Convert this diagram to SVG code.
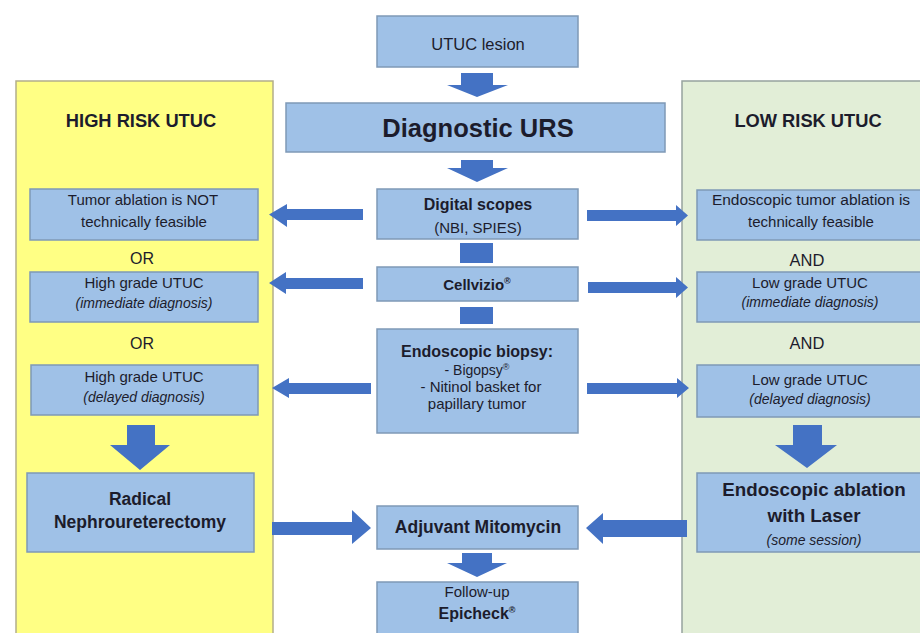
<svg xmlns="http://www.w3.org/2000/svg" width="920" height="633" viewBox="0 0 920 633">
<style>
.box{fill:#9fc1e7;stroke:#7f99b6;stroke-width:1.5}
.arr{fill:#4472c4}
text{font-family:"Liberation Sans",Arial,sans-serif;fill:#1c1c2c;text-anchor:middle}
.s{font-size:15px}
.i{font-size:14px;font-style:italic}
.b{font-weight:bold}
.h{font-size:18.3px;font-weight:bold}
.r{font-size:9px}
</style>
<rect width="920" height="633" fill="#ffffff"/>
<g id="high-risk-panel">
<rect x="16" y="81" width="257" height="560" fill="#ffff84" stroke="#b3ae8a" stroke-width="1.5"/>
<text class="h" x="141" y="127">HIGH RISK UTUC</text>
</g>
<g id="low-risk-panel">
<rect x="682" y="81" width="250" height="560" fill="#e2eed7" stroke="#97a39f" stroke-width="1.5"/>
<text class="h" x="808" y="127">LOW RISK UTUC</text>
</g>
<g id="connectors">
<polygon class="arr" points="461,73 493,73 493,85 508,85 477,97 447,85 461,85"/>
<polygon class="arr" points="461,160 493,160 493,168 508,168 477,182 447,168 461,168"/>
<rect class="arr" x="460" y="243" width="33" height="20"/>
<rect class="arr" x="460" y="307" width="33" height="17"/>
<polygon class="arr" points="462,553 492,553 492,563 507,563 477,577 447,563 462,563"/>
<polygon class="arr" points="363,209 287,209 287,204 269,214.5 287,227 287,220 363,220"/>
<polygon class="arr" points="363,278 286,278 286,272 269,283 286,294 286,289 363,289"/>
<polygon class="arr" points="371,383 289,383 289,378 272,388 289,398 289,394 371,394"/>
<polygon class="arr" points="587,210 676,210 676,205 688,215.5 676,226 676,221 587,221"/>
<polygon class="arr" points="588,282 676,282 676,277 688,287.5 676,298 676,293 588,293"/>
<polygon class="arr" points="587,383 677,383 677,378 689,388 677,398 677,394 587,394"/>
<polygon class="arr" points="127,425 155,425 155,445 170,445 140,470 110,445 127,445"/>
<polygon class="arr" points="793,425 822,425 822,445 837,445 807,468 775,445 793,445"/>
<polygon class="arr" points="272,522 352,522 352,510 371,528 352,544 352,535 272,535"/>
<polygon class="arr" points="687,520 603,520 603,513 586,528 603,544 603,537 687,537"/>
</g>
<g id="utuc-lesion">
<rect class="box" x="377" y="16" width="201" height="51"/>
<text x="478" y="50" style="font-size:16.5px">UTUC lesion</text>
</g>
<g id="diagnostic-urs">
<rect class="box" x="286" y="103" width="379" height="49"/>
<text class="b" x="478" y="137" style="font-size:25.5px">Diagnostic URS</text>
</g>
<g id="digital-scopes">
<rect class="box" x="377" y="189" width="201" height="50"/>
<text class="b" x="478" y="210" style="font-size:16px">Digital scopes</text>
<text class="s" x="478" y="233">(NBI, SPIES)</text>
</g>
<g id="cellvizio">
<rect class="box" x="377" y="267" width="201" height="34"/>
<text class="b" x="477" y="290" style="font-size:15px">Cellvizio<tspan class="r" dy="-6">®</tspan></text>
</g>
<g id="endoscopic-biopsy">
<rect class="box" x="377" y="329" width="201" height="104"/>
<text class="b" x="477" y="357" style="font-size:16px">Endoscopic biopsy:</text>
<text class="s" x="477" y="375" style="font-size:14px">- Bigopsy<tspan class="r" dy="-5">®</tspan></text>
<text class="s" x="481" y="392">- Nitinol basket for</text>
<text class="s" x="477" y="409">papillary tumor</text>
</g>
<g id="adjuvant-mitomycin">
<rect class="box" x="377" y="506" width="201" height="43"/>
<text class="b" x="478" y="533" style="font-size:17.5px">Adjuvant Mitomycin</text>
</g>
<g id="follow-up">
<rect class="box" x="377" y="582" width="201" height="60"/>
<text class="s" x="477" y="597">Follow-up</text>
<text class="b" x="477" y="619" style="font-size:16px">Epicheck<tspan class="r" dy="-6">®</tspan></text>
</g>
<g id="hr-not-feasible">
<rect class="box" x="30" y="189" width="228" height="51"/>
<text class="s" x="143" y="205">Tumor ablation is NOT</text>
<text class="s" x="144" y="227">technically feasible</text>
</g>
<g id="hr-or1"><text class="s" x="142" y="264" style="font-size:16px">OR</text></g>
<g id="hr-immediate">
<rect class="box" x="30" y="272" width="228" height="50"/>
<text class="s" x="144" y="288">High grade UTUC</text>
<text class="i" x="144" y="308">(immediate diagnosis)</text>
</g>
<g id="hr-or2"><text class="s" x="142" y="349" style="font-size:16px">OR</text></g>
<g id="hr-delayed">
<rect class="box" x="31" y="365" width="227" height="50"/>
<text class="s" x="144" y="382">High grade UTUC</text>
<text class="i" x="144" y="402">(delayed diagnosis)</text>
</g>
<g id="radical-nephroureterectomy">
<rect class="box" x="27" y="473" width="227" height="79"/>
<text class="b" x="140" y="505" style="font-size:17.5px">Radical</text>
<text class="b" x="140" y="528" style="font-size:17.5px">Nephroureterectomy</text>
</g>
<g id="lr-feasible">
<rect class="box" x="697" y="190" width="235" height="50"/>
<text class="s" x="811" y="205" style="font-size:15.5px">Endoscopic tumor ablation is</text>
<text class="s" x="811" y="227">technically feasible</text>
</g>
<g id="lr-and1"><text class="s" x="807" y="266" style="font-size:16.5px">AND</text></g>
<g id="lr-immediate">
<rect class="box" x="697" y="272" width="235" height="50"/>
<text class="s" x="810" y="288">Low grade UTUC</text>
<text class="i" x="810" y="307">(immediate diagnosis)</text>
</g>
<g id="lr-and2"><text class="s" x="807" y="349" style="font-size:16.5px">AND</text></g>
<g id="lr-delayed">
<rect class="box" x="697" y="365" width="235" height="52"/>
<text class="s" x="810" y="385">Low grade UTUC</text>
<text class="i" x="810" y="404">(delayed diagnosis)</text>
</g>
<g id="endoscopic-ablation">
<rect class="box" x="697" y="473" width="235" height="79"/>
<text class="b" x="814" y="496" style="font-size:18.8px">Endoscopic ablation</text>
<text class="b" x="814" y="522" style="font-size:18.8px">with Laser</text>
<text class="i" x="814" y="545">(some session)</text>
</g>
</svg>
